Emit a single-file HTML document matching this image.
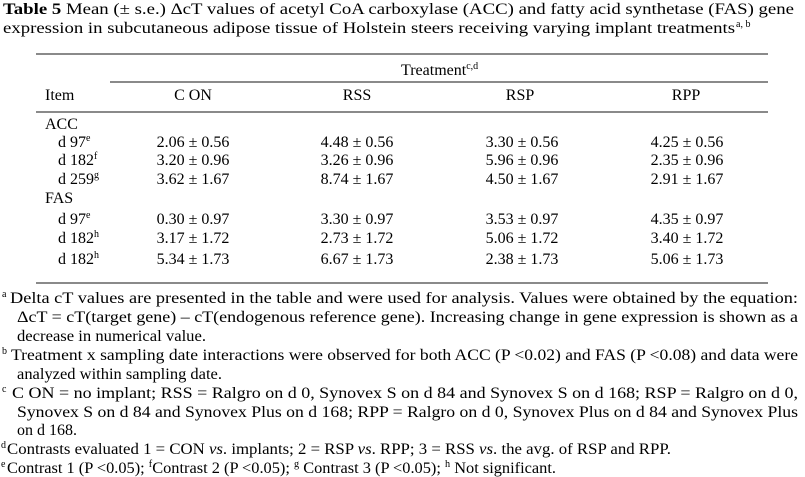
<!DOCTYPE html>
<html><head><meta charset="utf-8"><style>
html,body{margin:0;padding:0;background:#fff;}
svg{display:block;font-family:"Liberation Serif","Times New Roman",Times,serif;fill:#000;}
svg text, svg tspan{font-family:"Liberation Serif","Times New Roman",Times,serif;}
text{font-size:16px;}
.sup{font-size:10px;}
</style></head><body>
<svg id="tbl" width="805" height="477" viewBox="0 0 805 477" font-family="Liberation Serif, Times New Roman, serif">
<g>
<text x="3" y="14" textLength="791" lengthAdjust="spacingAndGlyphs"><tspan font-weight="bold">Table 5</tspan> Mean (± s.e.) ΔcT values of acetyl CoA carboxylase (ACC) and fatty acid synthetase (FAS) gene</text>
<text x="3" y="33" textLength="732" lengthAdjust="spacingAndGlyphs">expression in subcutaneous adipose tissue of Holstein steers receiving varying implant treatments</text>
<text x="736" y="27" class="sup">a, b</text>
</g>
<g stroke="#444" stroke-width="1.3">
<line x1="36" y1="54" x2="768" y2="54"/>
<line x1="110" y1="82" x2="768" y2="82"/>
<line x1="36" y1="112" x2="768" y2="112"/>
<line x1="36" y1="283" x2="768" y2="283"/>
</g>
<g>
<text x="401" y="75">Treatment<tspan class="sup" dy="-6">c,d</tspan></text>
<text x="45" y="100">Item</text>
<text x="193" y="100" text-anchor="middle">C ON</text>
<text x="357" y="100" text-anchor="middle">RSS</text>
<text x="520" y="100" text-anchor="middle">RSP</text>
<text x="686" y="100" text-anchor="middle">RPP</text>
</g>
<g id="body"></g>
<g>
<text x="2" y="297" class="sup">a</text>
<text x="10" y="303" textLength="788" lengthAdjust="spacingAndGlyphs">Delta cT values are presented in the table and were used for analysis.  Values were obtained by the equation:</text>
<text x="17" y="322" textLength="781" lengthAdjust="spacingAndGlyphs">ΔcT = cT(target gene) – cT(endogenous reference gene).  Increasing change in gene expression is shown as a</text>
<text x="17" y="341" textLength="189" lengthAdjust="spacingAndGlyphs">decrease in numerical value.</text>
<text x="2" y="354" class="sup">b</text>
<text x="11" y="360" textLength="787" lengthAdjust="spacingAndGlyphs">Treatment x sampling date interactions were observed for both ACC (P &lt;0.02) and FAS (P &lt;0.08) and data were</text>
<text x="17" y="379" textLength="205" lengthAdjust="spacingAndGlyphs">analyzed within sampling date.</text>
<text x="2" y="392" class="sup">c</text>
<text x="12" y="398" textLength="786" lengthAdjust="spacingAndGlyphs">C ON = no implant;  RSS = Ralgro on d 0, Synovex S on d 84 and Synovex S on d 168;  RSP =  Ralgro on d 0,</text>
<text x="17" y="417" textLength="781" lengthAdjust="spacingAndGlyphs">Synovex S on d 84 and Synovex Plus on d 168;  RPP = Ralgro on d 0, Synovex Plus on d 84 and Synovex Plus</text>
<text x="17" y="435" textLength="60" lengthAdjust="spacingAndGlyphs">on d 168.</text>
<text x="1" y="448" class="sup">d</text>
<text x="7" y="454" textLength="664" lengthAdjust="spacingAndGlyphs">Contrasts evaluated 1 = CON <tspan font-style="italic">vs</tspan>. implants; 2 = RSP <tspan font-style="italic">vs</tspan>. RPP; 3 = RSS <tspan font-style="italic">vs</tspan>. the avg. of RSP and RPP.</text>
<text x="1" y="467" class="sup">e</text>
<text x="7" y="473" textLength="549" lengthAdjust="spacingAndGlyphs">Contrast 1 (P &lt;0.05);  <tspan class="sup" dy="-6">f</tspan><tspan dy="6">Contrast 2 (P &lt;0.05);  </tspan><tspan class="sup" dy="-6">g</tspan><tspan dy="6"> Contrast 3 (P &lt;0.05);  </tspan><tspan class="sup" dy="-6">h</tspan><tspan dy="6"> Not significant.</tspan></text>
</g>
</svg>
<script>
const groups = ["ACC", "FAS"];
const rowLabels = ["d 97", "d 182", "d 259", "d 97", "d 182", "d 182"];
const rowSups = ["e", "f", "g", "e", "h", "h"];
const conVals = ["2.06 ± 0.56", "3.20 ± 0.96", "3.62 ± 1.67", "0.30 ± 0.97", "3.17 ± 1.72", "5.34 ± 1.73"];
const rssVals = ["4.48 ± 0.56", "3.26 ± 0.96", "8.74 ± 1.67", "3.30 ± 0.97", "2.73 ± 1.72", "6.67 ± 1.73"];
const rspVals = ["3.30 ± 0.56", "5.96 ± 0.96", "4.50 ± 1.67", "3.53 ± 0.97", "5.06 ± 1.72", "2.38 ± 1.73"];
const rppVals = ["4.25 ± 0.56", "2.35 ± 0.96", "2.91 ± 1.67", "4.35 ± 0.97", "3.40 ± 1.72", "5.06 ± 1.73"];

const NS = "http://www.w3.org/2000/svg";
const body = document.getElementById("body");
const colX = [193, 357, 522, 687];
const cols = [conVals, rssVals, rspVals, rppVals];
const colNames = ["con", "rss", "rsp", "rpp"];
const baselines = [129, 147, 165, 184, 203, 224, 243, 264];
function mk(x, y, txt, anchor) {
  const t = document.createElementNS(NS, "text");
  t.setAttribute("x", x); t.setAttribute("y", y);
  if (anchor) t.setAttribute("text-anchor", anchor);
  t.textContent = txt;
  body.appendChild(t);
  return t;
}
let line = 0;
groups.forEach((g, gi) => {
  const gt = mk(45, baselines[line], g);
  
  
  line++;
  for (let r = gi * 3; r < gi * 3 + 3; r++) {
    const y = baselines[line];
    const lt = mk(58, y, rowLabels[r]);
    
    
    const s = document.createElementNS(NS, "tspan");
    s.setAttribute("class", "sup");
    s.setAttribute("dy", "-6");
    s.textContent = rowSups[r];
    lt.appendChild(s);
    cols.forEach((c, ci) => {
      const vt = mk(colX[ci], y, c[r], "middle");
      
      
    });
    line++;
  }
});
</script>
</body></html>
